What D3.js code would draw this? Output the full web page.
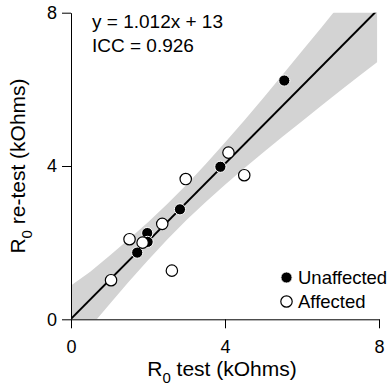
<!DOCTYPE html>
<html>
<head>
<meta charset="utf-8">
<script src="https://cdn.jsdelivr.net/npm/d3@7"></script>
<style>
  body { margin: 0; background: #fff; }
  text { font-family: "Liberation Sans", Arial, Helvetica, sans-serif; fill: #000; }
</style>
</head>
<body>
<div id="chart"></div>
<script>
// values in kOhms
const unaffectedTest = [5.54, 3.88, 2.83, 1.98, 1.99, 1.72];
const unaffectedRetest = [6.23, 3.98, 2.87, 2.25, 2.02, 1.74];
const affectedTest = [4.09, 4.50, 2.98, 2.37, 1.52, 1.86, 1.04, 2.62];
const affectedRetest = [4.35, 3.76, 3.66, 2.49, 2.09, 2.00, 1.02, 1.27];

// regression line + confidence band
const fitSlope = 1.012;
const fitIntercept = 0.013;
const bandX = [0, 0.5, 1, 1.5, 2, 2.5, 3, 3.5, 4, 4.5, 5, 5.5, 6, 6.5, 7, 7.5, 7.95];
const bandLower = [-0.86, -0.20, 0.39, 0.98, 1.54, 2.08, 2.59, 3.06, 3.51, 3.94, 4.36, 4.77, 5.17, 5.57, 5.97, 6.36, 6.71];
const bandUpper = [0.88, 1.24, 1.66, 2.09, 2.53, 3.01, 3.51, 4.05, 4.61, 5.19, 5.78, 6.39, 7.00, 7.61, 8.23, 8.85, 9.40];

const xTicks = [0, 4, 8];
const yTicks = [0, 4, 8];
const statsLines = ["y = 1.012x + 13", "ICC = 0.926"];
const legendLabels = ["Unaffected", "Affected"];

const width = 391, height = 390;
const margin = {left: 71, right: 12, top: 12.7, bottom: 70.7};

const x = d3.scaleLinear().domain([0, 8]).range([margin.left, width - margin.right]);
const y = d3.scaleLinear().domain([0, 8]).range([height - margin.bottom, margin.top]);

const svg = d3.select("#chart").append("svg")
    .attr("width", width)
    .attr("height", height);

svg.append("clipPath").attr("id", "plot-clip")
  .append("rect")
    .attr("x", x(0)).attr("y", y(8))
    .attr("width", x(8) - x(0)).attr("height", y(0) - y(8));

const plot = svg.append("g").attr("clip-path", "url(#plot-clip)");

const band = d3.area()
    .x((d, i) => x(bandX[i]))
    .y0((d, i) => y(bandLower[i]))
    .y1((d, i) => y(bandUpper[i]));

plot.append("path")
    .datum(bandX)
    .attr("d", band)
    .style("fill", "#d3d3d3");

plot.append("line")
    .attr("x1", x(0)).attr("y1", y(fitIntercept))
    .attr("x2", x(8)).attr("y2", y(fitSlope * 8 + fitIntercept))
    .style("stroke", "#000")
    .style("stroke-width", "2px");

// axes
const xAxis = svg.append("g")
    .attr("transform", `translate(0,${y(0)})`)
    .call(d3.axisBottom(x).tickValues(xTicks).tickSize(9).tickSizeOuter(0).tickPadding(12));
const yAxis = svg.append("g")
    .attr("transform", `translate(${x(0)},0)`)
    .call(d3.axisLeft(y).tickValues(yTicks).tickSize(9).tickSizeOuter(0).tickPadding(5));

[xAxis, yAxis].forEach(a => {
    a.selectAll("path, line").style("stroke", "#000").style("stroke-width", "1px");
    a.selectAll("text").style("font-size", "18px").style("fill", "#000")
        .style("font-family", '"Liberation Sans", Arial, sans-serif');
});

// points
const unaffected = unaffectedTest.map((v, i) => ({t: v, r: unaffectedRetest[i]}));
const affected = affectedTest.map((v, i) => ({t: v, r: affectedRetest[i]}));

svg.append("g").selectAll("circle")
    .data(unaffected)
    .enter().append("circle")
    .attr("cx", d => x(d.t))
    .attr("cy", d => y(d.r))
    .attr("r", 5.6)
    .style("fill", "#000")
    .style("stroke", "#fff")
    .style("stroke-width", "1px");

svg.append("g").selectAll("circle")
    .data(affected)
    .enter().append("circle")
    .attr("cx", d => x(d.t))
    .attr("cy", d => y(d.r))
    .attr("r", 5.7)
    .style("fill", "#fff")
    .style("stroke", "#000")
    .style("stroke-width", "1.2px");

// stats text
svg.append("g").selectAll("text")
    .data(statsLines)
    .enter().append("text")
    .attr("x", 92)
    .attr("y", (d, i) => 27.5 + i * 24)
    .style("font-size", "19px")
    .text(d => d);

// legend
const legend = svg.append("g");
legendLabels.forEach((lab, i) => {
    const ly = 277.5 + i * 24;
    legend.append("circle")
        .attr("cx", 286.5).attr("cy", ly)
        .attr("r", i === 0 ? 5.6 : 5.7)
        .style("fill", i === 0 ? "#000" : "#fff")
        .style("stroke", i === 0 ? "#fff" : "#000")
        .style("stroke-width", i === 0 ? "1px" : "1.2px");
    legend.append("text")
        .attr("x", 298)
        .attr("y", ly + 6.5)
        .style("font-size", "18.5px")
        .text(lab);
});

// axis titles
const xTitle = svg.append("text")
    .attr("x", 222)
    .attr("y", 376)
    .attr("text-anchor", "middle")
    .style("font-size", "21px");
xTitle.append("tspan").text("R");
xTitle.append("tspan").attr("dy", 7).style("font-size", "15px").text("0");
xTitle.append("tspan").attr("dy", -7).text(" test (kOhms)");

const yTitle = svg.append("text")
    .attr("transform", `translate(25,${(y(0) + y(8)) / 2}) rotate(-90)`)
    .attr("text-anchor", "middle")
    .style("font-size", "21px");
yTitle.append("tspan").text("R");
yTitle.append("tspan").attr("dy", 7).style("font-size", "15px").text("0");
yTitle.append("tspan").attr("dy", -7).text(" re-test (kOhms)");
</script>
</body>
</html>
